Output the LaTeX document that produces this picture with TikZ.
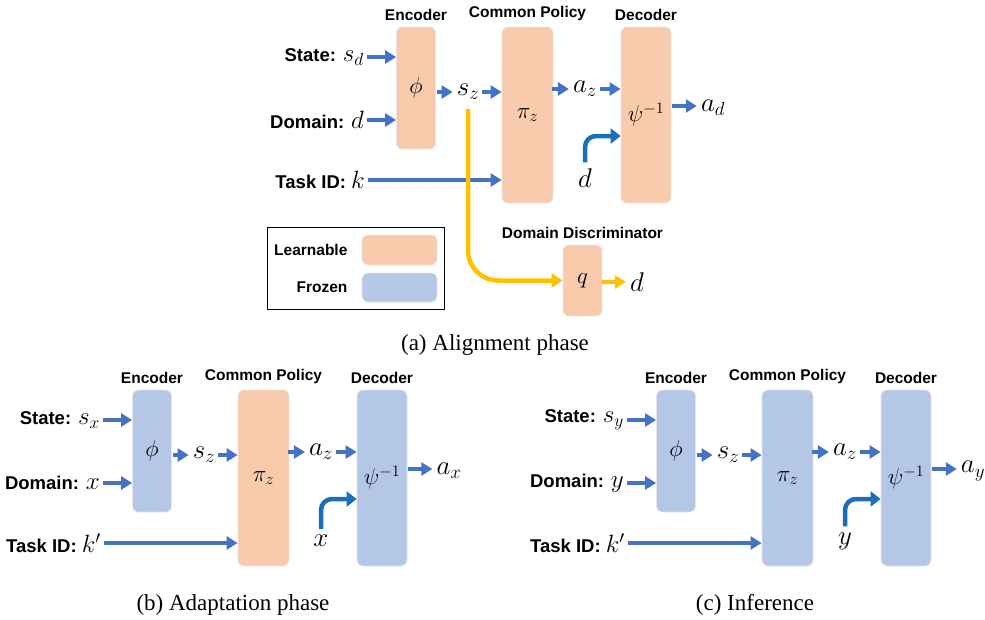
\RequirePackage{fix-cm}
\documentclass[tikz,border=0pt]{standalone}
\usepackage{fontspec}
\setsansfont{Liberation Sans}
\newfontfamily\capfont{Liberation Serif}
\usetikzlibrary{arrows.meta, positioning, calc}

\definecolor{learn}{HTML}{F8CBAD}
\definecolor{froz}{HTML}{B4C7E7}
\definecolor{arrblue}{HTML}{4472C4}
\definecolor{bentblue}{HTML}{1B6FB9}
\definecolor{gold}{HTML}{FFC000}

\newcommand{\bigmath}[1]{{\fontsize{25}{27}\selectfont$#1$}}

\tikzset{
  block/.style={rounded corners=6pt, draw=gray!20, line width=0.8pt, minimum width=39pt,
    inner sep=0pt, font=\fontsize{23}{25}\selectfont},
  head/.style={font=\sffamily\bfseries\fontsize{15.5}{18}\selectfont, inner sep=1pt},
  inlab/.style={font=\sffamily\bfseries\fontsize{18.5}{20}\selectfont, anchor=east, inner sep=3pt},
  var/.style={font=\fontsize{27}{29}\selectfont, inner sep=1pt},
  flow/.style={arrblue, line width=4pt, -{Triangle[length=11pt,width=13pt]}},
  bent/.style={bentblue, line width=4.5pt, rounded corners=11pt, -{Triangle[length=10pt,width=15pt]}},
  adv/.style={gold, line width=4.5pt, rounded corners=30pt, -{Triangle[length=11pt,width=14pt]}},
  caption/.style={font=\capfont\fontsize{23}{26}\selectfont},
}

\begin{document}
\begin{tikzpicture}[x=1pt, y=-1pt]
    \useasboundingbox (0,0) rectangle (985,619);

    % The three pipelines share one layout
    \foreach \p/\ox/\oy/\dom/\ecol/\pcol/\tid in {a/397/27/d/learn/learn/k, b/133/390/x/froz/learn/k', c/657/390/y/froz/froz/k'} {
    \begin{scope}[shift={(\ox,\oy)}]
        % Blocks
        \node[block, fill=\ecol, minimum height=122pt] (enc\p) at (19,61) {\raisebox{3pt}{$\phi$}};
        \node[block, fill=\pcol, minimum width=51pt, minimum height=176pt] (pol\p) at (130.5,88) {$\pi_z$};
        \node[block, fill=\ecol, minimum width=50pt, minimum height=176pt] (dec\p) at (249,88) {\raisebox{5pt}{$\psi^{-1}$}};
        \node[head, above=5pt of enc\p] {Encoder};
        \node[head, above=5pt of pol\p] {Common Policy};
        \node[head, above=5pt of dec\p] {Decoder};

        % Inputs
        \node[inlab] (st\p) at (-30,30) {State: \bigmath{s_{\dom}}};
        \node[inlab] (dm\p) at (-30,93) {Domain: \bigmath{\dom}};
        \node[inlab] (tk\p) at (-29,153) {Task ID: \bigmath{\tid}};
        \draw[flow] (st\p.east) -- (st\p.east -| enc\p.west);
        \draw[flow] (dm\p.east) -- (dm\p.east -| enc\p.west);
        \draw[flow] (tk\p.east) -- (tk\p.east -| pol\p.west);

        % Latent state and action
        \node[var] (sz\p) at (71,65) {$s_z$};
        \node[var] (az\p) at (188,62) {$a_z$};
        \node[var] (out\p) at (316,81) {$a_{\dom}$};
        \draw[flow, shorten <=1pt, shorten >=3pt] (enc\p.east |- sz\p) -- (sz\p.west);
        \draw[flow, shorten <=2pt] (sz\p.east) -- (sz\p.east -| pol\p.west);
        \draw[flow, shorten <=-1pt, shorten >=3pt] (pol\p.east |- az\p) -- (az\p.west);
        \draw[flow, shorten <=2pt] (az\p.east) -- (az\p.east -| dec\p.west);
        \draw[flow, shorten <=1pt, shorten >=3pt] ([yshift=9pt]dec\p.east) -- ([yshift=2pt]out\p.west);

        % Domain fed to the decoder
        \node[var] (dd\p) at (188,151) {$\dom$};
        \draw[bent, shorten <=5pt] (dd\p.north) |- ([yshift=-21pt]dec\p.west);
    \end{scope}
    }

    % Domain discriminator (alignment only)
    \node[block, fill=learn, minimum height=71pt] (dis) at (582.5,280.5) {$q$};
    \node[head, above=5pt of dis] {Domain Discriminator};
    \node[var] (dq) at (637,282) {$d$};
    \draw[adv] ([yshift=-8pt]sza.south) |- (dis.west);
    \draw[gold, line width=4pt, -{Triangle[length=11pt,width=13pt]}, shorten >=3pt] (dis.east |- dq) -- (dq.west);

    % Legend
    \node[draw=black, line width=1pt, minimum width=177pt, minimum height=82pt] (leg) at (355.5,268) {};
    \node[block, fill=learn, minimum width=75pt, minimum height=30pt] (swl) at (399.5,250) {};
    \node[block, fill=froz, minimum width=75pt, minimum height=29pt] (swf) at (399.5,287.5) {};
    \node[head, left=13pt of swl] {Learnable};
    \node[head, left=13pt of swf] {Frozen};

    % Captions
    \node[caption] (capa) at (495,345) {(a) Alignment phase};
    \node[caption] (capb) at (233,605) {(b) Adaptation phase};
    \node[caption] (capc) at (755,605) {(c) Inference};
\end{tikzpicture}
\end{document}
